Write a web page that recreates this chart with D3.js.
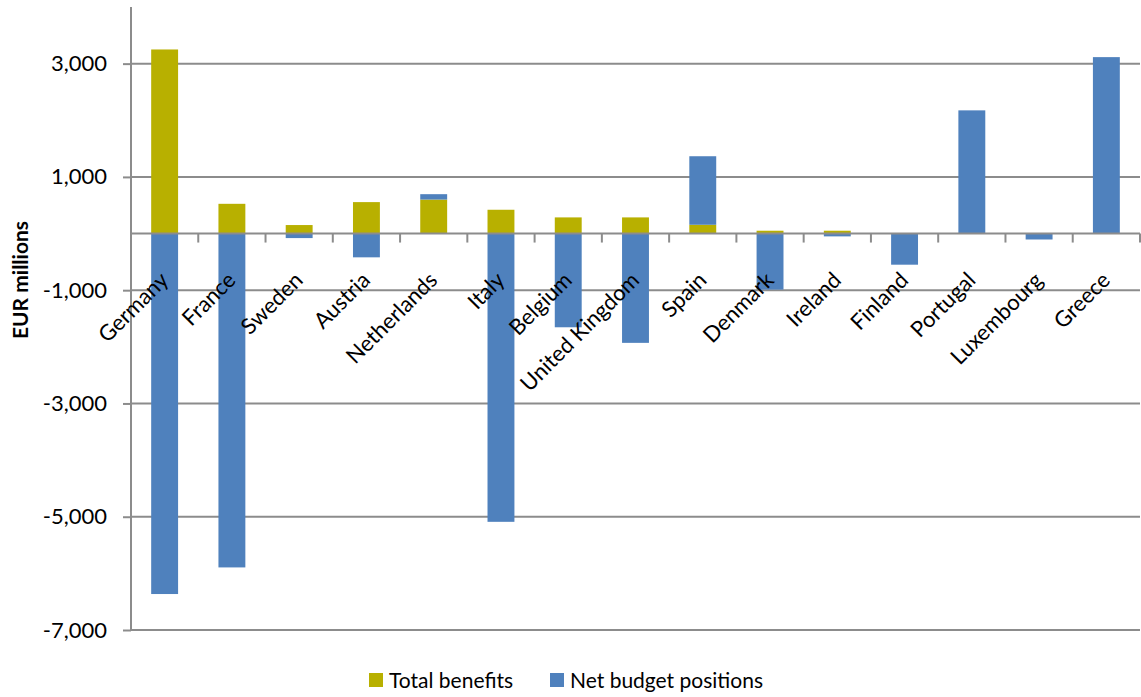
<!DOCTYPE html>
<html>
<head>
<meta charset="utf-8">
<script src="https://cdn.jsdelivr.net/npm/d3@7"></script>
<style>
  html, body { margin: 0; padding: 0; background: #fff; }
  svg { display: block; font-family: Lato, "Open Sans", sans-serif; }
</style>
</head>
<body>
<svg id="chart" width="1141" height="697"></svg>
<script>
// EU member states, EUR millions
const countries = ["Germany", "France", "Sweden", "Austria", "Netherlands", "Italy", "Belgium",
  "United Kingdom", "Spain", "Denmark", "Ireland", "Finland", "Portugal", "Luxembourg", "Greece"];
const totalBenefits = [3250, 525, 150, 555, 600, 420, 285, 285, 155, 50, 50, 0, 0, 0, 0];
const netBudgetPositions = [-6365, -5895, -80, -420, 95, -5090, -1655, -1930, 1210, -990, -50, -550, 2175, -105, 3115];
const yTicks = [-7000, -5000, -3000, -1000, 1000, 3000];
const seriesNames = ["Total benefits", "Net budget positions"];
const seriesColors = ["#b8b000", "#4f81bd"];

const svg = d3.select("#chart");
const plot = { left: 131, right: 1140, top: 7, bottom: 630 };

const x = d3.scaleBand().domain(countries).range([plot.left, plot.right]).paddingInner(0.6).paddingOuter(0.3);
const xEdges = d3.scaleBand().domain(countries).range([plot.left, plot.right]);
const y = d3.scaleLinear().domain([-7000, 4000]).range([plot.bottom, plot.top]);

const rows = countries.map((c, i) => ({ country: c, tb: totalBenefits[i], nb: netBudgetPositions[i] }));
const stacked = d3.stack().keys(["tb", "nb"]).offset(d3.stackOffsetDiverging)(rows);

const grid = "#8c8c8c";
const thousands = d3.format(",");
const fmt = v => thousands(v).replace("\u2212", "-");

// horizontal gridlines
svg.append("g").selectAll("line").data(yTicks).join("line")
  .attr("x1", plot.left).attr("x2", plot.right)
  .attr("y1", d => y(d)).attr("y2", d => y(d))
  .attr("stroke", grid).attr("stroke-width", 2);

// y axis
const yAxis = svg.append("g").attr("transform", `translate(${plot.left},0)`)
  .call(d3.axisLeft(y).tickValues(yTicks).tickSize(8).tickPadding(16).tickFormat(fmt));
yAxis.select(".domain").attr("stroke", grid).attr("stroke-width", 2)
  .attr("d", `M0,${plot.top}V${plot.bottom}`);
yAxis.selectAll(".tick line").attr("stroke", grid).attr("stroke-width", 2);
yAxis.selectAll(".tick text").attr("font-size", 22).attr("fill", "#000")
  .attr("font-family", "Lato, sans-serif");

// stacked bars
svg.append("g").selectAll("g").data(stacked).join("g")
  .attr("fill", (d, i) => seriesColors[i])
  .selectAll("rect").data(d => d).join("rect")
  .attr("x", d => x(d.data.country))
  .attr("width", x.bandwidth())
  .attr("y", d => y(Math.max(d[0], d[1])))
  .attr("height", d => Math.abs(y(d[0]) - y(d[1])));

// category axis at zero
const zeroY = y(0);
svg.append("line").attr("x1", plot.left).attr("x2", plot.right)
  .attr("y1", zeroY).attr("y2", zeroY).attr("stroke", grid).attr("stroke-width", 2);
svg.append("g").selectAll("line").data(countries).join("line")
  .attr("x1", (d, i) => plot.left + xEdges.step() * (i + 1))
  .attr("x2", (d, i) => plot.left + xEdges.step() * (i + 1))
  .attr("y1", zeroY).attr("y2", zeroY + 9)
  .attr("stroke", grid).attr("stroke-width", 2);

// rotated category labels
svg.append("g").selectAll("text").data(countries).join("text")
  .attr("transform", d => `translate(${x(d) + x.bandwidth() / 2 - 6},${zeroY + 37}) rotate(-45)`)
  .attr("text-anchor", "end")
  .attr("dy", "0.71em")
  .attr("font-size", 22)
  .attr("fill", "#000")
  .text(d => d);

// y axis title
svg.append("text")
  .attr("transform", "translate(28,280) rotate(-90)")
  .attr("text-anchor", "middle")
  .attr("font-size", 21).attr("font-weight", "bold")
  .text("EUR millions");

// legend
const legendX = [369, 550];
const legend = svg.append("g").selectAll("g").data(seriesNames).join("g")
  .attr("transform", (d, i) => `translate(${legendX[i]},673)`);
legend.append("rect").attr("width", 14).attr("height", 14).attr("fill", (d, i) => seriesColors[i]);
legend.append("text").attr("x", 20).attr("y", 15).attr("font-size", 21).text(d => d);
</script>
</body>
</html>
